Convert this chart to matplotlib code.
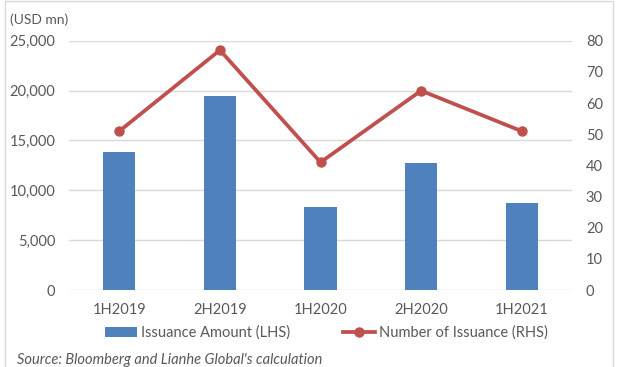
import numpy as np
import matplotlib.pyplot as plt
from matplotlib.patches import Rectangle

# datos
periodos = ['1H2019', '2H2019', '1H2020', '2H2020', '1H2021']
monto = [13800, 19500, 8300, 12700, 8700]
numero = [51, 77, 41, 64, 51]

plt.rcParams['font.family'] = ['Lato', 'DejaVu Sans']
gris = '#595959'

fig = plt.figure(figsize=(6.18, 3.67), dpi=100)
ax = fig.add_axes([0.1117, 0.2098, 0.8139, 0.679])
x = np.arange(len(periodos))

barras = ax.bar(x, monto, width=0.32, color='#4f81bd', zorder=2,
                label='Issuance Amount (LHS)')
ax.set_ylim(0, 25000)
ax.set_xlim(-0.5, len(periodos) - 0.5)
ax.set_yticks(np.arange(0, 25001, 5000))
ax.set_yticklabels([f'{v:,}' for v in range(0, 25001, 5000)])
ax.grid(axis='y', color='#d9d9d9', linewidth=1, zorder=0)
ax.set_xticks(x)
ax.set_xticklabels(periodos)
for s in ax.spines.values():
    s.set_visible(False)
ax.tick_params(axis='y', length=0, colors=gris, labelsize=10.5, pad=10)
ax.tick_params(axis='x', length=0, colors=gris, labelsize=10.5, pad=9)

ax2 = ax.twinx()
linea, = ax2.plot(x, numero, color='#c0504d', linewidth=2.7, marker='o',
                  markersize=6.5, label='Number of Issuance (RHS)', zorder=3)
ax2.set_ylim(0, 80)
ax2.set_yticks(range(0, 81, 10))
for s in ax2.spines.values():
    s.set_visible(False)
ax2.tick_params(length=0, colors=gris, labelsize=10.5, pad=10)

fig.text(0.016, 0.946, '(USD mn)', color=gris, fontsize=10, va='center')

fig.legend(handles=[barras, linea], loc='center', ncol=2,
           bbox_to_anchor=(0.528, 0.093), frameon=False, fontsize=10.5,
           labelcolor=gris, handlelength=2.2, columnspacing=3.6,
           handletextpad=0.3)

fig.text(0.0275, 0.019, "Source: Bloomberg and Lianhe Global's calculation",
         color=gris, fontsize=10.5, style='italic', va='center')

fig.patches.append(Rectangle((0.008, -0.01), 0.984, 1.007, transform=fig.transFigure,
                             fill=False, edgecolor='#d9d9d9', linewidth=1))

fig.savefig('out.png', dpi=100)
